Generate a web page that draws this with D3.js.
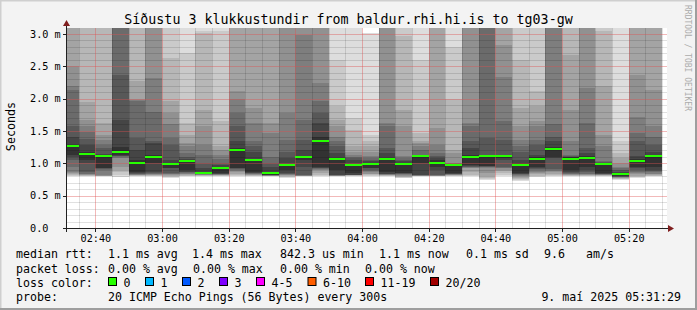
<!DOCTYPE html>
<html>
<head>
<meta charset="utf-8">
<script src="https://cdn.jsdelivr.net/npm/d3@7"></script>
<style>
	body { margin: 0; background: #f3f3f3; }
	svg { display: block; }
	text { font-family: "DejaVu Sans Mono", monospace; fill: #000; }
</style>
</head>
<body>
<div id="chart"></div>
<script>
//Chart texts
const title = 'Síðustu 3 klukkustundir from baldur.rhi.hi.is to tg03-gw';
const unitLabel = 'Seconds';
const watermark = 'RRDTOOL / TOBI OETIKER';

//Time window (3 hours, 5 minute steps)
const viewStart = Date.UTC(2025, 4, 9, 2, 31, 29);
const viewEnd = Date.UTC(2025, 4, 9, 5, 31, 29);
const firstStep = Date.UTC(2025, 4, 9, 2, 30, 0);
const stepMinutes = 5;
const firstMajor = Date.UTC(2025, 4, 9, 2, 40, 0);
const majorMinutes = 20;

//Y ticks (ms)
const yTicks = [0, 0.5, 1.0, 1.5, 2.0, 2.5, 3.0];
const yTickLabels = ['0.0', '0.5 m', '1.0 m', '1.5 m', '2.0 m', '2.5 m', '3.0 m'];

//Median rtt per step (ms)
const medians = [1.26, 1.14, 1.11, 1.18, 1.01, 1.09, 0.985, 1.03, 0.845, 0.92, 1.21, 1.05,
	0.843, 0.97, 1.09, 1.35, 1.06, 0.97, 0.985, 1.07, 0.985, 1.11, 1.01, 0.97,
	1.09, 1.11, 1.11, 0.97, 1.07, 1.225, 1.07, 1.087, 0.985, 0.842, 1.04, 1.11];

//20 sorted pings per step (ms), used for the smoke
const pings = [
	[0.80,0.81,0.82,0.83,0.85,0.87,0.95,1.05,1.09,1.13,1.29,1.41,1.57,2.14,2.19,2.50,3.30,3.50,3.80,4.10],
	[0.80,0.805,0.81,0.815,0.82,0.83,0.84,0.86,1.00,1.05,1.17,1.28,1.38,1.49,1.57,1.67,1.94,3.30,3.50,3.90],
	[0.80,0.802,0.805,0.807,0.81,0.812,0.90,0.91,0.92,0.93,1.12,1.14,1.24,1.29,1.36,1.44,1.62,3.20,3.50,3.80],
	[0.79,0.82,0.86,0.90,0.95,1.08,1.10,1.11,1.12,1.13,1.25,1.67,2.37,3.20,3.30,3.40,3.50,3.70,3.90,4.20],
	[0.80,0.805,0.81,0.815,0.82,0.825,0.83,0.84,0.85,0.86,1.05,1.21,1.39,1.96,1.98,2.00,2.27,3.20,3.50,3.80],
	[0.80,0.805,0.81,0.815,0.82,0.83,0.84,0.85,0.87,1.00,1.13,1.31,1.34,1.80,2.32,3.20,3.40,3.60,3.80,4.00],
	[0.78,0.79,0.80,0.81,0.82,0.83,0.84,0.85,0.92,0.93,1.00,1.05,1.29,1.39,1.60,1.78,1.96,2.62,3.20,3.50],
	[0.80,0.805,0.81,0.82,0.83,0.84,0.85,0.86,0.87,0.90,1.04,1.07,1.10,1.16,1.26,1.31,1.44,1.62,2.70,3.30],
	[0.80,0.805,0.81,0.815,0.82,0.825,0.83,0.832,0.835,0.84,0.87,0.93,1.00,1.13,1.29,1.57,1.83,3.02,3.04,3.30],
	[0.80,0.805,0.81,0.815,0.82,0.825,0.83,0.835,0.84,0.85,0.94,0.98,1.00,1.07,1.13,1.21,1.26,1.65,3.05,3.40],
	[0.80,0.81,0.82,0.84,0.86,0.88,0.90,0.91,0.92,0.93,1.23,1.34,1.57,1.78,2.00,2.11,3.20,3.40,3.60,3.90],
	[0.80,0.805,0.81,0.815,0.82,0.83,0.84,0.845,0.85,0.87,1.06,1.18,1.26,1.34,1.62,1.85,3.20,3.40,3.70,4.00],
	[0.80,0.802,0.804,0.806,0.808,0.81,0.812,0.815,0.818,0.82,0.87,0.95,1.00,1.10,1.47,1.62,3.20,3.40,3.60,3.90],
	[0.78,0.79,0.80,0.81,0.815,0.82,0.83,0.84,0.85,0.90,0.99,1.08,1.18,1.36,1.78,3.20,3.40,3.60,3.80,4.10],
	[0.80,0.802,0.804,0.806,0.808,0.81,0.815,0.82,0.95,1.05,1.12,1.21,1.36,1.67,2.98,3.20,3.40,3.60,3.80,4.00],
	[0.80,0.81,0.82,0.85,0.89,0.90,0.91,0.92,0.93,0.95,1.41,1.62,1.78,1.96,2.24,3.20,3.40,3.60,3.80,4.10],
	[0.80,0.802,0.804,0.806,0.808,0.81,0.812,0.815,0.82,0.90,1.08,1.16,1.26,1.34,1.41,1.57,1.67,1.88,2.60,3.30],
	[0.80,0.805,0.81,0.812,0.815,0.817,0.818,0.82,0.822,0.85,0.99,1.05,1.08,1.10,1.13,1.18,1.26,1.52,1.70,3.30],
	[0.80,0.81,0.82,0.83,0.84,0.86,0.88,0.90,0.92,0.925,1.00,1.03,1.05,1.08,1.11,1.18,1.26,1.34,1.44,3.01],
	[0.80,0.805,0.81,0.815,0.82,0.825,0.83,0.835,0.84,0.87,1.08,1.16,1.23,1.57,1.62,3.20,3.40,3.60,3.80,4.00],
	[0.77,0.78,0.79,0.80,0.81,0.82,0.83,0.84,0.845,0.85,1.00,1.03,1.05,1.08,1.11,1.57,1.83,2.96,3.20,3.50],
	[0.80,0.802,0.804,0.806,0.808,0.81,0.812,0.815,0.82,1.00,1.115,1.12,1.13,1.21,1.26,1.31,1.34,1.47,2.60,3.30],
	[0.80,0.802,0.804,0.806,0.808,0.81,0.815,0.82,0.90,0.95,1.05,1.08,1.12,1.16,1.29,1.54,3.20,3.40,3.60,3.90],
	[0.80,0.805,0.81,0.815,0.82,0.825,0.83,0.835,0.84,0.85,0.98,0.99,0.995,0.998,1.00,1.16,1.21,2.00,2.80,3.30],
	[0.80,0.81,0.82,0.86,0.92,0.93,0.94,0.95,0.96,0.98,1.13,1.23,1.34,1.57,1.62,3.20,3.40,3.60,3.80,4.00],
	[0.74,0.75,0.77,0.80,0.85,0.92,0.94,0.95,0.96,0.965,1.12,1.13,1.39,3.20,3.30,3.40,3.60,3.80,4.00,4.20],
	[0.80,0.82,0.85,0.88,0.90,0.92,0.93,0.95,1.05,1.08,1.11,1.13,1.36,1.65,2.34,2.83,3.20,3.40,3.70,4.00],
	[0.72,0.74,0.76,0.78,0.80,0.81,0.82,0.83,0.84,0.85,1.00,1.05,1.18,1.26,1.36,1.57,1.85,2.60,3.20,3.50],
	[0.79,0.80,0.81,0.83,0.85,0.87,0.89,0.91,0.93,0.95,1.10,1.13,1.29,1.36,1.57,1.65,1.88,2.11,3.20,3.50],
	[0.80,0.81,0.82,0.84,0.86,0.88,0.90,0.905,1.08,1.10,1.25,1.34,1.41,1.60,3.20,3.40,3.60,3.80,4.00,4.20],
	[0.80,0.805,0.81,0.815,0.82,0.83,0.84,0.85,0.87,0.90,1.09,1.10,1.12,1.13,1.34,1.83,2.68,3.20,3.50,3.80],
	[0.80,0.805,0.81,0.815,0.82,0.83,0.84,0.86,0.90,0.95,1.11,1.16,1.23,1.62,2.16,3.20,3.40,3.60,3.80,4.00],
	[0.80,0.805,0.81,0.815,0.82,0.825,0.83,0.835,0.84,0.85,0.99,1.00,1.02,1.03,1.26,1.44,2.19,3.04,3.20,3.50],
	[0.745,0.75,0.76,0.77,0.78,0.785,0.79,0.795,0.80,0.805,0.85,0.87,0.90,0.92,0.95,1.00,1.08,1.16,1.34,3.30],
	[0.78,0.79,0.80,0.81,0.83,0.85,0.87,0.89,0.92,0.95,1.06,1.11,1.34,1.47,1.72,2.37,3.20,3.40,3.70,4.00],
	[0.80,0.805,0.81,0.82,0.83,0.84,0.86,0.88,0.90,0.95,1.12,1.18,1.28,1.41,1.57,2.14,3.20,3.40,3.70,4.00]
];

//Smoke shades from the outer ping pair to the inner one
const smokeShades = ['#dddddd','#cacaca','#b7b7b7','#a4a4a4','#919191','#7e7e7e','#6b6b6b','#585858','#454545','#323232'];

//Legend
const rttLegend = [
	{x: 16, t: 'median rtt:'}, {x: 108, t: '1.1 ms avg'}, {x: 192, t: '1.4 ms max'},
	{x: 280, t: '842.3 us min'}, {x: 379, t: '1.1 ms now'}, {x: 466, t: '0.1 ms sd'},
	{x: 544, t: '9.6'}, {x: 586, t: 'am/s'}
];
const lossLegend = [
	{x: 16, t: 'packet loss:'}, {x: 108, t: '0.00 % avg'}, {x: 193, t: '0.00 % max'},
	{x: 280, t: '0.00 % min'}, {x: 365, t: '0.00 % now'}
];
const lossLabels = ['0', '1', '2', '3', '4-5', '6-10', '11-19', '20/20'];
const lossColors = ['#26ff00', '#00b8ff', '#0059ff', '#7e00ff', '#ff00ff', '#ff5e00', '#ff0000', '#a10000'];
const lossBoxX = [108, 145, 182, 219, 256, 307.5, 365, 430];
const probeText = '20 ICMP Echo Pings (56 Bytes) every 300s';
const stampText = '9. maí 2025 05:31:29';

renderChart(document.getElementById('chart'));

function renderChart(dom){
	const W = 697, H = 310;
	const svg = d3.select(dom).append('svg')
		.attr('width', W)
		.attr('height', H);

	//Background and frame
	svg.append('rect').attr('width', W).attr('height', H).style('fill', '#f3f3f3');
	svg.append('path').attr('d', `M0.5,${H}V0.5H${W}`).style('fill', 'none').style('stroke', '#cfcfcf').style('stroke-width', 2);
	svg.append('path').attr('d', `M0,${H-1}H${W-1}V0`).style('fill', 'none').style('stroke', '#9e9e9e').style('stroke-width', 2);

	const left = 67, right = 667, top = 28, bottom = 228;

	//Scales
	const x = d3.scaleLinear().domain([viewStart, viewEnd]).range([left, right]);
	const y = d3.scaleLinear().domain([0, 200 / 64.7]).range([bottom, top]);

	//Canvas
	svg.append('rect')
		.attr('x', left).attr('y', top)
		.attr('width', right - left).attr('height', bottom - top)
		.style('fill', '#ffffff');

	svg.append('clipPath').attr('id', 'canvas-clip')
		.append('rect').attr('x', left).attr('y', top)
		.attr('width', right - left).attr('height', bottom - top);

	const plot = svg.append('g').attr('clip-path', 'url(#canvas-clip)');

	//Steps
	const steps = medians.map(function(m, i){
		const t0 = firstStep + i * stepMinutes * 60000;
		return {t0: t0, t1: t0 + stepMinutes * 60000, median: m, pings: pings[i]};
	});

	//Smoke: band between ping k and k+1
	steps.forEach(function(s){
		const x0 = Math.round(Math.max(x(s.t0), left));
		const x1 = Math.round(x(s.t1));
		for(let k = 0; k < s.pings.length - 1; k++){
			const shade = smokeShades[k <= 9 ? k : 18 - k];
			const yTop = Math.round(y(s.pings[k+1]));
			const yBot = Math.round(y(s.pings[k]));
			if(yBot - yTop <= 0) continue;
			plot.append('rect')
				.attr('x', x0).attr('y', yTop)
				.attr('width', x1 - x0).attr('height', yBot - yTop)
				.attr('shape-rendering', 'crispEdges')
				.style('fill', shade);
		}
	});

	//Grid positions
	const minorY = d3.range(1, 31).filter(function(d){ return d % 5 !== 0; }).map(function(d){ return d / 10; });
	const majorY = yTicks.filter(function(d){ return d > 0; });
	const minorX = d3.range(firstStep + stepMinutes * 60000, viewEnd, stepMinutes * 60000)
		.filter(function(t){ return (t - firstMajor) % (majorMinutes * 60000) !== 0; });
	const majorX = d3.range(firstMajor, viewEnd, majorMinutes * 60000);

	//Grid drawn as thin lines with the averaged tone of the dotted rrd grid
	const minorColor = 'rgba(0,0,0,0.12)', majorColor = 'rgba(222,79,79,0.4)';
	const grid = plot.append('g').attr('shape-rendering', 'crispEdges');

	grid.selectAll('.minor-y').data(minorY).enter().append('rect')
		.attr('class', 'minor-y')
		.attr('x', left).attr('width', right - left)
		.attr('y', function(d){ return Math.round(y(d)); }).attr('height', 1)
		.style('fill', minorColor);
	grid.selectAll('.minor-x').data(minorX).enter().append('rect')
		.attr('class', 'minor-x')
		.attr('x', function(d){ return Math.round(x(d)); }).attr('width', 1)
		.attr('y', top).attr('height', bottom - top)
		.style('fill', minorColor);
	grid.selectAll('.major-y').data(majorY).enter().append('rect')
		.attr('class', 'major-y')
		.attr('x', left).attr('width', right - left)
		.attr('y', function(d){ return Math.round(y(d)); }).attr('height', 1)
		.style('fill', majorColor);
	grid.selectAll('.major-x').data(majorX).enter().append('rect')
		.attr('class', 'major-x')
		.attr('x', function(d){ return Math.round(x(d)); }).attr('width', 1)
		.attr('y', top).attr('height', bottom - top)
		.style('fill', majorColor);

	//Median line, loss colour 0
	plot.selectAll('.median').data(steps).enter().append('rect')
		.attr('class', 'median')
		.attr('x', function(d){ return Math.round(Math.max(x(d.t0), left)); })
		.attr('width', function(d){ return Math.round(x(d.t1)) - Math.round(Math.max(x(d.t0), left)); })
		.attr('y', function(d){ return Math.round(y(d.median)) - 1; })
		.attr('height', 2)
		.attr('shape-rendering', 'crispEdges')
		.style('fill', lossColors[0]);

	//Axes
	const axisColor = '#202020', arrowColor = '#801f1f';
	svg.append('line').attr('x1', left - 4).attr('x2', right + 2)
		.attr('y1', bottom + 0.5).attr('y2', bottom + 0.5)
		.style('stroke', axisColor);
	svg.append('line').attr('x1', left - 0.5).attr('x2', left - 0.5)
		.attr('y1', bottom + 4).attr('y2', top - 3)
		.style('stroke', axisColor);
	svg.append('path').attr('d', `M${right + 1},${bottom - 3}L${right + 7},${bottom + 0.5}L${right + 1},${bottom + 4}Z`)
		.style('fill', arrowColor);
	svg.append('path').attr('d', `M${left - 4},${top - 2}L${left - 0.5},${top - 8}L${left + 3},${top - 2}Z`)
		.style('fill', arrowColor);

	//Ticks
	svg.selectAll('.ytick').data(yTicks).enter().append('line')
		.attr('class', 'ytick')
		.attr('x1', left - 4).attr('x2', left)
		.attr('y1', function(d){ return Math.round(y(d)) + 0.5; })
		.attr('y2', function(d){ return Math.round(y(d)) + 0.5; })
		.style('stroke', axisColor);
	svg.selectAll('.xtick').data(majorX).enter().append('line')
		.attr('class', 'xtick')
		.attr('y1', bottom).attr('y2', bottom + 4)
		.attr('x1', function(d){ return Math.round(x(d)) + 0.5; })
		.attr('x2', function(d){ return Math.round(x(d)) + 0.5; })
		.style('stroke', axisColor);

	//Tick labels
	svg.selectAll('.ylabel').data(yTicks).enter().append('text')
		.attr('class', 'ylabel')
		.attr('x', 30)
		.attr('y', function(d){ return y(d) + 3.7; })
		.style('font-size', '10.2px')
		.text(function(d, i){ return yTickLabels[i]; });

	const fmt = d3.utcFormat('%H:%M');
	svg.selectAll('.xlabel').data(majorX).enter().append('text')
		.attr('class', 'xlabel')
		.attr('x', function(d){ return x(d) + 0.5; })
		.attr('y', 241.5)
		.attr('text-anchor', 'middle')
		.style('font-size', '10.2px')
		.text(function(d){ return fmt(new Date(d)); });

	//Title, unit, watermark
	svg.append('text').attr('x', 348.5).attr('y', 24)
		.attr('text-anchor', 'middle')
		.style('font-size', '13.3px')
		.text(title);
	svg.append('text')
		.attr('transform', 'translate(15,126.5) rotate(-90)')
		.attr('text-anchor', 'middle')
		.style('font-size', '11.7px')
		.text(unitLabel);
	svg.append('text')
		.attr('transform', 'translate(684.5,5) rotate(90)')
		.style('font-size', '8px')
		.style('fill', '#ababab')
		.text(watermark);

	//Legend rows
	const legendSize = '11.6px';
	svg.selectAll('.rtt').data(rttLegend).enter().append('text')
		.attr('class', 'rtt')
		.attr('x', function(d){ return d.x; }).attr('y', 258)
		.style('font-size', legendSize).text(function(d){ return d.t; });
	svg.selectAll('.loss').data(lossLegend).enter().append('text')
		.attr('class', 'loss')
		.attr('x', function(d){ return d.x; }).attr('y', 272.5)
		.style('font-size', legendSize).text(function(d){ return d.t; });

	svg.append('text').attr('x', 16).attr('y', 286.5).style('font-size', legendSize).text('loss color:');
	svg.selectAll('.lossbox').data(lossLabels).enter().append('rect')
		.attr('class', 'lossbox')
		.attr('x', function(d, i){ return lossBoxX[i] + 0.5; })
		.attr('y', 277.5)
		.attr('width', 8).attr('height', 8)
		.style('fill', function(d, i){ return lossColors[i]; })
		.style('stroke', '#000').style('stroke-width', 1);
	svg.selectAll('.losslabel').data(lossLabels).enter().append('text')
		.attr('class', 'losslabel')
		.attr('x', function(d, i){ return lossBoxX[i] + 15.5; })
		.attr('y', 286.5)
		.style('font-size', legendSize).text(function(d){ return d; });

	svg.append('text').attr('x', 16).attr('y', 300.5).style('font-size', legendSize).text('probe:');
	svg.append('text').attr('x', 108).attr('y', 300.5).style('font-size', legendSize).text(probeText);
	svg.append('text').attr('x', 681).attr('y', 300.5).attr('text-anchor', 'end').style('font-size', legendSize).text(stampText);
}
</script>
</body>
</html>
